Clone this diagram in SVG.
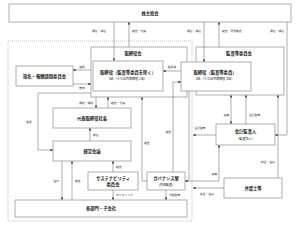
<svg xmlns="http://www.w3.org/2000/svg" width="300" height="225" viewBox="0 0 300 225">
<defs>
<style>
.box{fill:#fff;stroke:#9a9a9a;stroke-width:0.8}
.frame{fill:none;stroke:#aaa;stroke-width:0.7;stroke-dasharray:1,1}
.ln{fill:none;stroke:#8a8a8a;stroke-width:0.7}
.arr{marker-end:url(#ah)}
.t{font-family:"Noto Sans CJK JP","Noto Sans",sans-serif;fill:#222;text-anchor:middle}
.tb{font-size:4.3px;font-weight:bold}
.ts{font-size:3.1px}
.lb{font-family:"Noto Sans CJK JP","Noto Sans",sans-serif;fill:#333;font-size:2.8px}
.e{text-anchor:end}
.m{text-anchor:middle}
</style>
<marker id="ah" viewBox="0 0 4 4" refX="4" refY="2" markerWidth="2.6" markerHeight="2.6" markerUnits="userSpaceOnUse" orient="auto">
<path d="M0,0L4,2L0,4z" fill="#333"/>
</marker>
<marker id="as" viewBox="0 0 4 4" refX="0" refY="2" markerWidth="2.6" markerHeight="2.6" markerUnits="userSpaceOnUse" orient="auto">
<path d="M4,0L0,2L4,4z" fill="#333"/>
</marker>
</defs>
<rect class="frame" x="8" y="41" width="184" height="180"/>
<g id="kabunushi"><rect class="box" x="9" y="4" width="282" height="18"/><text class="t tb" x="150" y="14.5">株主総会</text></g>
<g id="torishimariyakukai"><rect class="box" x="91" y="47" width="96" height="50"/><text class="t tb" x="133" y="55">取締役会</text></g>
<g id="kansaiinkai"><rect class="box" x="196" y="47" width="88" height="48"/><text class="t tb" x="239" y="55">監査等委員会</text></g>
<g id="director1"><rect class="box" x="93" y="61" width="70" height="30"/><text class="t tb" x="128" y="74">取締役（監査等委員を除く）</text><text class="t ts" x="128" y="80">6名（うち社外取締役 2名）</text></g>
<g id="director2"><rect class="box" x="181" y="62" width="70" height="29"/><text class="t tb" x="215" y="74">取締役（監査等委員）</text><text class="t ts" x="215" y="80">3名（うち社外取締役 3名）</text></g>
<g id="shimei"><rect class="box" x="16" y="66" width="57" height="20"/><text class="t tb" x="44.5" y="77.5">指名・報酬諮問委員会</text></g>
<g id="shacho"><rect class="box" x="53" y="108" width="78" height="20"/><text class="t tb" x="92" y="119.5">代表取締役社長</text></g>
<g id="keiei"><rect class="box" x="53" y="141" width="78" height="20"/><text class="t tb" x="92" y="152.5">経営会議</text></g>
<g id="sustain"><rect class="box" x="88" y="172" width="50" height="18"/><text class="t tb" x="113" y="179.5">サステナビリティ</text><text class="t tb" x="113" y="186">委員会</text></g>
<g id="governance"><rect class="box" x="147" y="172" width="38" height="18"/><text class="t tb" x="166" y="179.5">ガバナンス室</text><text class="t ts" x="166" y="185.5">(内部監査)</text></g>
<g id="kakubumon"><rect class="box" x="15" y="200" width="172" height="17"/><text class="t tb" x="101" y="210">各部門・子会社</text></g>
<g id="kaikei"><rect class="box" x="216" y="124" width="59" height="21"/><text class="t tb" x="245.5" y="133">会計監査人</text><text class="t ts" x="245.5" y="139.5">（監査法人）</text></g>
<g id="bengoshi"><rect class="box" x="224" y="178" width="58" height="20"/><text class="t tb" x="253" y="189.5">弁護士等</text></g>
<g id="connectors">
<path class="ln arr" d="M114,22V61"/>
<path class="ln arr" d="M129,47V22"/>
<path class="ln arr" d="M204,22V62"/>
<path class="ln arr" d="M219,47V22"/>
<path class="ln arr" d="M287,22V135H275"/>
<path class="ln arr" d="M181,71H163"/>
<path class="ln arr" d="M91,70H73"/>
<path class="ln arr" d="M73,84H91"/>
<path class="ln arr" d="M91,93H38V150H53"/>
<path class="ln arr" d="M96,97V108"/>
<path class="ln arr" d="M108,108V97"/>
<path class="ln arr" d="M90,141V128"/>
<path class="ln arr" d="M62,161V200"/>
<path class="ln arr" d="M72,200V161"/>
<path class="ln arr" d="M113,172V161"/>
<path class="ln arr" d="M113,190V200"/>
<path class="ln arr" d="M166,190V200"/>
<path class="ln arr" d="M147,181H142V97"/>
<path class="ln arr" d="M173,172V82H181"/>
<path class="ln" d="M189,91V181"/>
<path class="ln" style="marker-start:url(#as);marker-end:url(#ah)" d="M231,95V124"/>
<path class="ln arr" d="M246,124V95"/>
<path class="ln arr" d="M216,135H193"/>
<path class="ln" style="marker-start:url(#as);marker-end:url(#ah)" d="M219,145V181H185"/>
<path class="ln arr" d="M278,178V95"/>
<path class="ln arr" d="M224,188H193"/>
</g>
<g id="labels">
<text class="lb e" x="106" y="32">選任・解任</text>
<text class="lb" x="132" y="32">報告・付議</text>
<text class="lb e" x="201" y="32">選任・解任</text>
<text class="lb" x="222" y="32">報告・意見陳述</text>
<text class="lb e" x="284" y="32">選任・解任</text>
<text class="lb m" x="172" y="68">監督等</text>
<text class="lb m" x="82" y="68">諮問</text>
<text class="lb m" x="82" y="89">答申</text>
<text class="lb m" x="29" y="123">監督</text>
<text class="lb e" x="93" y="104">選定・解職</text>
<text class="lb" x="111" y="104">報告・付議</text>
<text class="lb" x="93" y="136">委任</text>
<text class="lb e" x="59" y="182">指示</text>
<text class="lb" x="75" y="182">報告</text>
<text class="lb" x="116" y="168">報告</text>
<text class="lb" x="116" y="196">モニタリング</text>
<text class="lb" x="169" y="196">内部監査</text>
<text class="lb" x="144" y="144">報告</text>
<text class="lb e" x="171" y="133">報告</text>
<text class="lb e" x="229" y="116">連携</text>
<text class="lb" x="249" y="116">会計監査</text>
<text class="lb m" x="200" y="129">会計監査</text>
<text class="lb e" x="217" y="175">連携</text>
<text class="lb e" x="275" y="163">助言・指導</text>
<text class="lb m" x="207" y="195">助言・指導</text>
</g>
</svg>
